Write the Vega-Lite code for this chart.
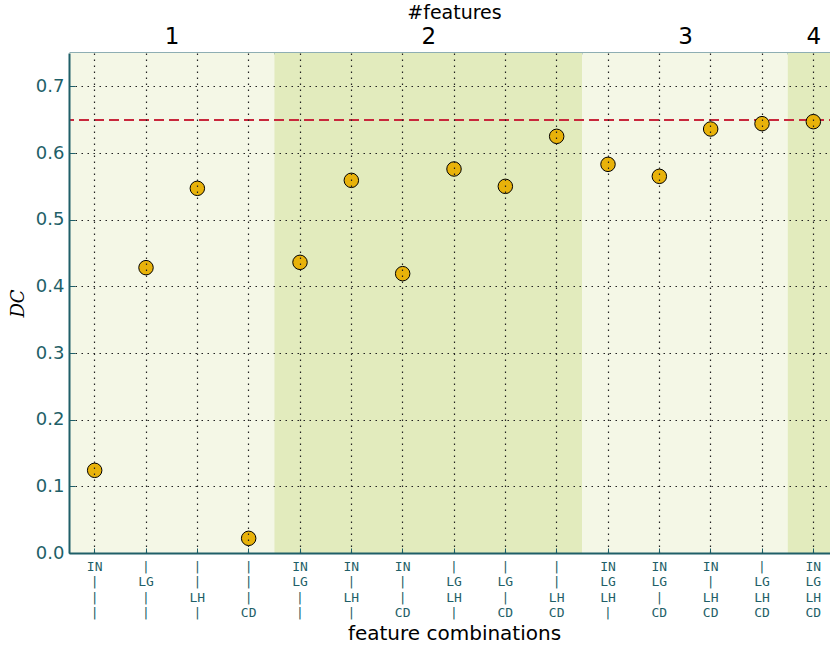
{
  "$schema": "https://vega.github.io/schema/vega-lite/v6.json",
  "width": 770,
  "height": 500,
  "autosize": {"type": "none"},
  "padding": {"left": 69, "top": 53, "right": 0, "bottom": 95},
  "background": "white",
  "config": {"view": {"stroke": null}, "font": "DejaVu Sans"},
  "datasets": {
    "groups": [
      {"n": 1, "start": 0, "end": 4, "center": 2},
      {"n": 2, "start": 4, "end": 10, "center": 7},
      {"n": 3, "start": 10, "end": 14, "center": 12},
      {"n": 4, "start": 14, "end": 15, "center": 14.5}
    ],
    "points": [
      {"combo": "IN,|,|,|", "dc": 0.124},
      {"combo": "|,LG,|,|", "dc": 0.428},
      {"combo": "|,|,LH,|", "dc": 0.547},
      {"combo": "|,|,|,CD", "dc": 0.022},
      {"combo": "IN,LG,|,|", "dc": 0.436},
      {"combo": "IN,|,LH,|", "dc": 0.559},
      {"combo": "IN,|,|,CD", "dc": 0.419},
      {"combo": "|,LG,LH,|", "dc": 0.576},
      {"combo": "|,LG,|,CD", "dc": 0.550},
      {"combo": "|,|,LH,CD", "dc": 0.625},
      {"combo": "IN,LG,LH,|", "dc": 0.583},
      {"combo": "IN,LG,|,CD", "dc": 0.565},
      {"combo": "IN,|,LH,CD", "dc": 0.636},
      {"combo": "|,LG,LH,CD", "dc": 0.644},
      {"combo": "IN,LG,LH,CD", "dc": 0.647}
    ]
  },
  "layer": [
    {
      "data": {"name": "groups"},
      "mark": {"type": "rect"},
      "encoding": {
        "x": {
          "field": "start",
          "type": "quantitative",
          "scale": {"domain": [0, 15], "nice": false, "zero": false},
          "axis": {
            "orient": "top",
            "values": [2, 7, 12, 14.5],
            "labelExpr": "datum.value < 5 ? '1' : datum.value < 10 ? '2' : datum.value < 14 ? '3' : '4'",
            "labelFontSize": 23,
            "labelColor": "black",
            "labelPadding": 10,
            "tickSize": -5,
            "tickColor": "#1f5f68",
            "domainColor": "#1f5f68",
            "domainWidth": 2,
            "grid": false,
            "title": "#features",
            "titleFontSize": 19,
            "titleFontWeight": "normal",
            "titleColor": "black",
            "titlePadding": 3
          }
        },
        "x2": {"field": "end"},
        "fill": {
          "field": "n",
          "type": "nominal",
          "scale": {"domain": [1, 2, 3, 4], "range": ["#f4f7e6", "#e2ebbd", "#f4f7e6", "#e2ebbd"]},
          "legend": null
        }
      }
    },
    {
      "data": {"name": "points"},
      "mark": {"type": "rule", "color": "#c8283c", "strokeWidth": 1.5, "strokeDash": [10, 5]},
      "encoding": {
        "y": {"datum": 0.65, "type": "quantitative"}
      }
    },
    {
      "data": {"name": "points"},
      "mark": {"type": "point", "shape": "circle", "filled": true, "size": 210, "fill": "#e8b20a", "stroke": "black", "strokeWidth": 1, "opacity": 1},
      "encoding": {
        "x": {
          "field": "combo",
          "type": "nominal",
          "sort": null,
          "scale": {"type": "band", "paddingInner": 0, "paddingOuter": 0},
          "axis": {
            "orient": "bottom",
            "labelExpr": "split(datum.value, ',')",
            "labelAngle": 0,
            "labelFont": "DejaVu Sans Mono",
            "labelFontSize": 13,
            "labelLineHeight": 15.5,
            "labelBaseline": "top",
            "labelColor": "#1f5f68",
            "labelPadding": 12,
            "tickSize": -5,
            "tickColor": "#1f5f68",
            "domainColor": "#1f5f68",
            "domainWidth": 2,
            "grid": true,
            "gridColor": "#222",
            "gridDash": [1.5, 4.5],
            "gridWidth": 1.2,
            "zindex": 1,
            "title": "feature combinations",
            "titleFontSize": 20,
            "titleFontWeight": "normal",
            "titleColor": "black",
            "titlePadding": 4
          }
        },
        "y": {
          "field": "dc",
          "type": "quantitative",
          "scale": {"domain": [0, 0.75], "nice": false, "zero": true},
          "axis": {
            "values": [0, 0.1, 0.2, 0.3, 0.4, 0.5, 0.6, 0.7],
            "format": ".1f",
            "labelFontSize": 18,
            "labelColor": "#1f5f68",
            "labelPadding": 11,
            "tickSize": -6,
            "tickColor": "#1f5f68",
            "domainColor": "#1f5f68",
            "domainWidth": 2,
            "grid": true,
            "gridColor": "#222",
            "gridDash": [1.5, 4.5],
            "gridWidth": 1.2,
            "zindex": 1,
            "title": "DC",
            "titleFont": "DejaVu Serif",
            "titleFontStyle": "italic",
            "titleFontWeight": "normal",
            "titleFontSize": 18,
            "titleColor": "black",
            "titlePadding": 8
          }
        }
      }
    }
  ],
  "resolve": {"scale": {"x": "independent"}, "axis": {"x": "independent"}}
}
